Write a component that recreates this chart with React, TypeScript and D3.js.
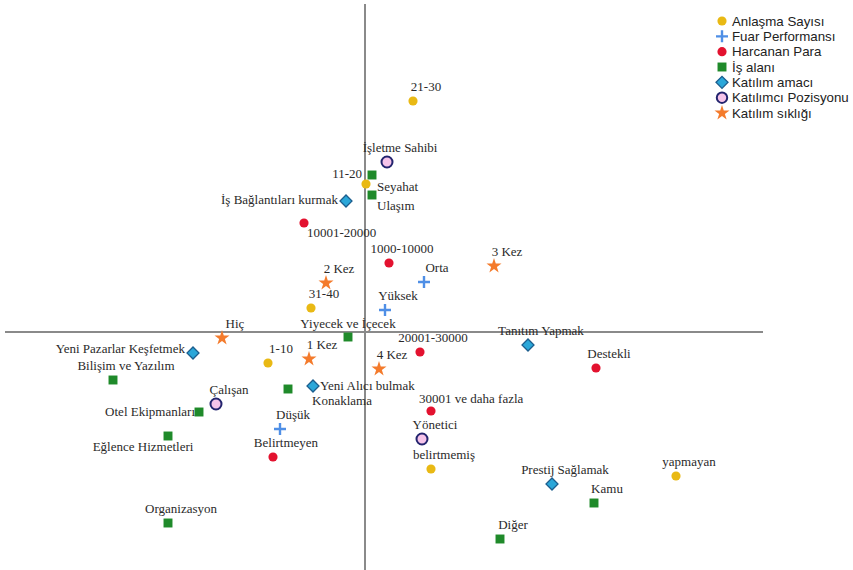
import React from "react";
import * as d3 from "d3";

// ---- Data (correspondence analysis coordinates: dim1, dim2) ----
const seriesNames = [
  "Anlaşma Sayısı",
  "Fuar Performansı",
  "Harcanan Para",
  "İş alanı",
  "Katılım amacı",
  "Katılımcı Pozisyonu",
  "Katılım sıklığı",
];

const anlasmaLabels = ["21-30", "11-20", "31-40", "1-10", "belirtmemiş", "yapmayan"];
const anlasmaDim1 = [0.48, 0.01, -0.54, -0.97, 0.66, 3.11];
const anlasmaDim2 = [2.31, 1.48, 0.24, -0.31, -1.37, -1.44];

const fuarLabels = ["Orta", "Yüksek", "Düşük"];
const fuarDim1 = [0.59, 0.2, -0.85];
const fuarDim2 = [0.5, 0.22, -0.97];

const harcananLabels = ["10001-20000", "1000-10000", "20001-30000", "Destekli", "30001 ve daha fazla", "Belirtmeyen"];
const harcananDim1 = [-0.61, 0.24, 0.55, 2.31, 0.66, -0.92];
const harcananDim2 = [1.09, 0.69, -0.2, -0.36, -0.79, -1.25];

const isAlaniLabels = ["Seyahat", "Ulaşım", "Yiyecek ve İçecek", "Bilişim ve Yazılım", "Konaklama", "Otel Ekipmanları", "Eğlence Hizmetleri", "Organizasyon", "Kamu", "Diğer"];
const isAlaniDim1 = [0.07, 0.07, -0.17, -2.52, -0.77, -1.66, -1.97, -1.97, 2.29, 1.35];
const isAlaniDim2 = [1.57, 1.37, -0.05, -0.48, -0.57, -0.8, -1.04, -1.91, -1.71, -2.07];

const amacLabels = ["İş Bağlantıları kurmak", "Yeni Pazarlar Keşfetmek", "Yeni Alıcı bulmak", "Tanıtım Yapmak", "Prestij Sağlamak"];
const amacDim1 = [-0.19, -1.72, -0.52, 1.63, 1.87];
const amacDim2 = [1.31, -0.21, -0.54, -0.13, -1.52];

const pozisyonLabels = ["İşletme Sahibi", "Çalışan", "Yönetici"];
const pozisyonDim1 = [0.22, -1.49, 0.57];
const pozisyonDim2 = [1.7, -0.72, -1.07];

const siklikLabels = ["3 Kez", "2 Kez", "Hiç", "1 Kez", "4 Kez"];
const siklikDim1 = [1.29, -0.39, -1.43, -0.56, 0.14];
const siklikDim2 = [0.66, 0.49, -0.06, -0.27, -0.37];

// ---- Styles ----
const W = 853;
const H = 570;
const serif = "Liberation Serif, Times New Roman, serif";
const sans = "Liberation Sans, Arial, sans-serif";

const styles = [
  { kind: "circle", fill: "#E9B914", stroke: "none" },
  { kind: "plus", fill: "none", stroke: "#4F8FE6" },
  { kind: "circle", fill: "#E3122F", stroke: "none" },
  { kind: "square", fill: "#1F8A2A", stroke: "none" },
  { kind: "diamond", fill: "#2BA7D9", stroke: "#1C5E8E" },
  { kind: "ring", fill: "#F6C4EA", stroke: "#23246E" },
  { kind: "star", fill: "#F47B2C", stroke: "none" },
];

type LP = { dx: number; dy: number; anchor: "start" | "middle" | "end" };
const defaultLP: LP = { dx: 13, dy: -10, anchor: "middle" };
const labelPlacement: Record<string, LP> = {
  "11-20": { dx: -4, dy: -6, anchor: "end" },
  "10001-20000": { dx: 3, dy: 14, anchor: "start" },
  "30001 ve daha fazla": { dx: -12, dy: -8, anchor: "start" },
  Seyahat: { dx: 5, dy: 16, anchor: "start" },
  "Ulaşım": { dx: 5, dy: 15, anchor: "start" },
  "Yiyecek ve İçecek": { dx: 0, dy: -9, anchor: "middle" },
  Konaklama: { dx: 24, dy: 16, anchor: "start" },
  "Otel Ekipmanları": { dx: -4, dy: 4, anchor: "end" },
  "Eğlence Hizmetleri": { dx: -25, dy: 15, anchor: "middle" },
  "İş Bağlantıları kurmak": { dx: -8, dy: 3, anchor: "end" },
  "Yeni Pazarlar Keşfetmek": { dx: -8, dy: 0, anchor: "end" },
  "Yeni Alıcı bulmak": { dx: 7, dy: 4, anchor: "start" },
};

const allSeries = [
  { labels: anlasmaLabels, d1: anlasmaDim1, d2: anlasmaDim2 },
  { labels: fuarLabels, d1: fuarDim1, d2: fuarDim2 },
  { labels: harcananLabels, d1: harcananDim1, d2: harcananDim2 },
  { labels: isAlaniLabels, d1: isAlaniDim1, d2: isAlaniDim2 },
  { labels: amacLabels, d1: amacDim1, d2: amacDim2 },
  { labels: pozisyonLabels, d1: pozisyonDim1, d2: pozisyonDim2 },
  { labels: siklikLabels, d1: siklikDim1, d2: siklikDim2 },
];

function Marker({ kind, fill, stroke, x, y, scale = 1 }: any) {
  const t = `translate(${x},${y})`;
  if (kind === "circle") {
    return <path transform={t} d={d3.symbol(d3.symbolCircle, 66 * scale)()!} fill={fill} />;
  }
  if (kind === "ring") {
    return <circle cx={x} cy={y} r={5.5 * scale} fill={fill} stroke={stroke} strokeWidth={2} />;
  }
  if (kind === "square") {
    return <path transform={t} d={d3.symbol(d3.symbolSquare, 80 * scale)()!} fill={fill} />;
  }
  if (kind === "diamond") {
    return (
      <path
        transform={`${t} rotate(45)`}
        d={d3.symbol(d3.symbolSquare, 72 * scale)()!}
        fill={fill}
        stroke={stroke}
        strokeWidth={1.3}
      />
    );
  }
  if (kind === "plus") {
    const r = 6 * scale;
    return (
      <path
        transform={t}
        d={`M${-r},0H${r}M0,${-r}V${r}`}
        stroke={stroke}
        strokeWidth={2.4}
        fill="none"
      />
    );
  }
  // star
  return <path transform={t} d={d3.symbol(d3.symbolStar, 70 * scale)()!} fill={fill} />;
}

export default function App() {
  const x = d3.scaleLinear().domain([-3.6, 3.98]).range([5, 763]);
  const y = d3.scaleLinear().domain([3.32, -2.38]).range([0, 570]);

  const legendY = d3.scaleLinear().domain([0, 6]).range([21, 113]);

  return (
    <svg
      width={W}
      height={H}
      style={{ position: "absolute", left: 0, top: 0, background: "#fff" }}
    >
      <rect width={W} height={H} fill="#fff" />
      {/* axes */}
      <line x1={x(0)} x2={x(0)} y1={4} y2={H} stroke="#8a8a8a" strokeWidth={2} />
      <line x1={5} x2={763} y1={y(0)} y2={y(0)} stroke="#8a8a8a" strokeWidth={2} />

      {/* points */}
      {allSeries.map((s, si) =>
        s.labels.map((lab, i) => {
          const px = x(s.d1[i]);
          const py = y(s.d2[i]);
          const lp = labelPlacement[lab] || defaultLP;
          return (
            <g key={`${si}-${i}`}>
              <Marker {...styles[si]} x={px} y={py} />
              <text
                x={px + lp.dx}
                y={py + lp.dy}
                textAnchor={lp.anchor}
                style={{ fontFamily: serif, fontSize: "13px" }}
                fill="#2a2a2a"
              >
                {lab}
              </text>
            </g>
          );
        })
      )}

      {/* legend */}
      {seriesNames.map((name, i) => (
        <g key={name}>
          <Marker {...styles[i]} x={722} y={legendY(i)} scale={styles[i].kind === "ring" ? 0.95 : 1} />
          <text
            x={732}
            y={legendY(i)}
            dy="0.35em"
            style={{ fontFamily: sans, fontSize: "13.3px" }}
            fill="#222"
          >
            {name}
          </text>
        </g>
      ))}
    </svg>
  );
}
